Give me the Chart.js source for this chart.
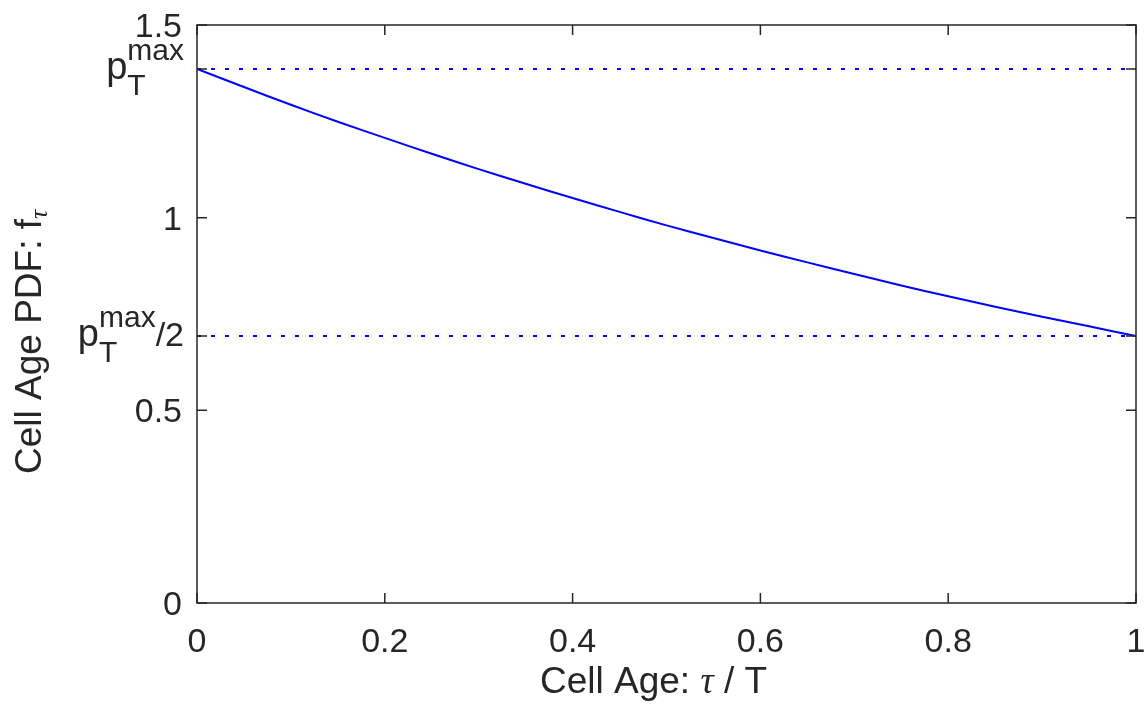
<!DOCTYPE html>
<html>
<head>
<meta charset="utf-8">
<script src="https://cdn.jsdelivr.net/npm/chart.js@4.4.1/dist/chart.umd.min.js"></script>
<style>
  html, body { margin: 0; padding: 0; background: #ffffff; }
  #wrap { width: 1145px; height: 717px; position: relative; }
</style>
</head>
<body>
<div id="wrap"><canvas id="c" width="1145" height="717"></canvas></div>
<script>
// ---- Data ----
const cellAge = [0, 0.05, 0.1, 0.15, 0.2, 0.25, 0.3, 0.35, 0.4, 0.45, 0.5,
                 0.55, 0.6, 0.65, 0.7, 0.75, 0.8, 0.85, 0.9, 0.95, 1];
const pdfValues = [1.386, 1.339, 1.293, 1.249, 1.207, 1.166, 1.126, 1.088, 1.051, 1.015, 0.980,
                   0.947, 0.915, 0.884, 0.854, 0.824, 0.796, 0.769, 0.743, 0.718, 0.693];
const pMax = 1.386;
const pHalf = 0.693;
const refX = [0, 1];
const xTickValues = [0, 0.2, 0.4, 0.6, 0.8, 1];
const xTickLabels = ['0', '0.2', '0.4', '0.6', '0.8', '1'];
const yTickValues = [0, 0.5, 1, 1.5];
const yTickLabels = ['0', '0.5', '1', '1.5'];
const xTitle = ['Cell Age: ', '\u03C4', ' / T'];
const yTitle = ['Cell Age PDF: f', '\u03C4'];

const TXT = '#262626';
const SANS = '"Liberation Sans", Arial, Helvetica, sans-serif';
const SERIF = '"Liberation Serif", "DejaVu Serif", serif';

const axesPlugin = {
  id: 'matlabAxes',
  afterDraw(chart) {
    const ctx = chart.ctx;
    const xs = chart.scales.x, ys = chart.scales.y;
    const L = chart.chartArea.left, R = chart.chartArea.right;
    const T = chart.chartArea.top, B = chart.chartArea.bottom;
    const tl = 10;
    ctx.save();
    ctx.strokeStyle = TXT;
    ctx.lineWidth = 1.5;
    ctx.strokeRect(L, T, R - L, B - T);
    ctx.beginPath();
    xTickValues.forEach(v => {
      const px = xs.getPixelForValue(v);
      ctx.moveTo(px, B); ctx.lineTo(px, B - tl);
      ctx.moveTo(px, T); ctx.lineTo(px, T + tl);
    });
    [...yTickValues, pMax, pHalf].forEach(v => {
      const py = ys.getPixelForValue(v);
      ctx.moveTo(L, py); ctx.lineTo(L + tl, py);
      ctx.moveTo(R, py); ctx.lineTo(R - tl, py);
    });
    ctx.stroke();

    ctx.fillStyle = TXT;
    // x tick labels
    ctx.font = '34px ' + SANS;
    ctx.textAlign = 'center';
    ctx.textBaseline = 'alphabetic';
    xTickValues.forEach((v, i) => {
      ctx.fillText(xTickLabels[i], xs.getPixelForValue(v), B + 49);
    });
    // y tick labels
    ctx.textAlign = 'right';
    const labRight = L - 15;
    yTickValues.forEach((v, i) => {
      ctx.fillText(yTickLabels[i], labRight, ys.getPixelForValue(v) + 12);
    });

    // p_T^max composite labels
    function pLabel(v, suffix) {
      const py = ys.getPixelForValue(v);
      ctx.textAlign = 'left';
      ctx.font = '38px ' + SANS;
      const wp = ctx.measureText('p').width;
      ctx.font = '30px ' + SANS;
      const wmax = ctx.measureText('max').width;
      const wT = ctx.measureText('T').width;
      ctx.font = '34px ' + SANS;
      const ws = suffix ? ctx.measureText(suffix).width : 0;
      const total = wp + Math.max(wmax, wT) + ws;
      let x0 = labRight + 2 - total;
      ctx.font = '38px ' + SANS;
      ctx.fillText('p', x0, py + 10);
      ctx.font = '30px ' + SANS;
      ctx.fillText('max', x0 + wp, py - 9);
      ctx.fillText('T', x0 + wp, py + 26);
      if (suffix) {
        ctx.font = '34px ' + SANS;
        ctx.fillText(suffix, x0 + wp + Math.max(wmax, wT), py + 10);
      }
    }
    pLabel(pMax, '');
    pLabel(pHalf, '/2');

    // x title
    ctx.textAlign = 'left';
    ctx.font = '37px ' + SANS;
    const w1 = ctx.measureText(xTitle[0]).width;
    ctx.font = 'italic 37px ' + SERIF;
    const w2 = ctx.measureText(xTitle[1]).width;
    ctx.font = '37px ' + SANS;
    const w3 = ctx.measureText(xTitle[2]).width;
    const xStart = 540;
    ctx.fillText(xTitle[0], xStart, 693);
    ctx.font = 'italic 37px ' + SERIF;
    ctx.fillText(xTitle[1], xStart + w1, 693);
    ctx.font = '37px ' + SANS;
    ctx.fillText(xTitle[2], xStart + w1 + w2, 693);

    // y title (rotated)
    ctx.save();
    ctx.font = '37px ' + SANS;
    const wy1 = ctx.measureText(yTitle[0]).width;
    ctx.font = 'italic 26px ' + SERIF;
    const wy2 = ctx.measureText(yTitle[1]).width;
    ctx.translate(41, 474);
    ctx.rotate(-Math.PI / 2);
    ctx.font = '37px ' + SANS;
    ctx.fillText(yTitle[0], 0, 0);
    ctx.font = 'italic 26px ' + SERIF;
    ctx.fillText(yTitle[1], wy1, 6);
    ctx.restore();

    ctx.restore();
  }
};

new Chart(document.getElementById('c'), {
  type: 'scatter',
  data: {
    datasets: [
      {
        data: cellAge.map((x, i) => ({ x: x, y: pdfValues[i] })),
        showLine: true, borderColor: '#0000ff', borderWidth: 2,
        pointRadius: 0, tension: 0.3, fill: false
      },
      {
        data: refX.map(x => ({ x: x, y: pMax })),
        showLine: true, borderColor: '#0000ff', borderWidth: 2,
        borderDash: [4, 10], pointRadius: 0, fill: false
      },
      {
        data: refX.map(x => ({ x: x, y: pHalf })),
        showLine: true, borderColor: '#0000ff', borderWidth: 2,
        borderDash: [4, 10], pointRadius: 0, fill: false
      }
    ]
  },
  options: {
    responsive: false,
    animation: false,
    devicePixelRatio: 1,
    layout: { padding: { left: 197, right: 9, top: 25, bottom: 114 } },
    plugins: { legend: { display: false }, tooltip: { enabled: false } },
    scales: {
      x: { type: 'linear', min: 0, max: 1, display: false },
      y: { type: 'linear', min: 0, max: 1.5, display: false }
    }
  },
  plugins: [axesPlugin]
});
</script>
</body>
</html>
